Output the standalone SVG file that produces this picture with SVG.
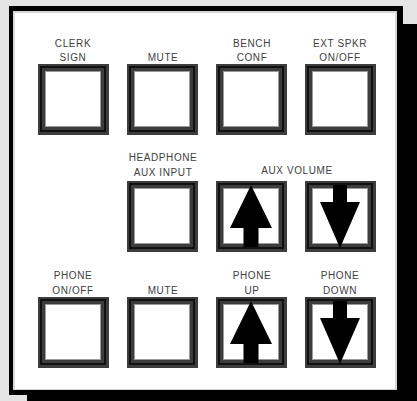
<svg xmlns="http://www.w3.org/2000/svg" width="417" height="401" viewBox="0 0 417 401">
<defs>
<style>
.lbl{font-family:"Liberation Sans","DejaVu Sans",sans-serif;font-size:10px;fill:#404040;text-anchor:middle;letter-spacing:0.6px}
.bo{fill:#3d3d3d}
.bl{fill:none;stroke:#111;stroke-width:2}
.bi{fill:#fff;stroke:#9a9a9a;stroke-width:1}
.ar{fill:#000}
</style>
<g id="btn">
<rect class="bo" x="0" y="0" width="71" height="71"/>
<rect class="bl" x="3" y="3" width="64" height="64"/>
<rect class="bi" x="7.5" y="7.5" width="55" height="55"/>
</g>
<path id="up" class="ar" d="M35,4 L56,47 L42.5,47 L42.5,66 L27.5,66 L27.5,47 L14,47 Z"/>
<path id="down" class="ar" d="M28,4 L42,4 L42,21 L55,21 L35,67 L15,21 L28,21 Z"/>
</defs>
<rect x="0" y="0" width="417" height="401" fill="#e4e4e4"/>
<rect x="27" y="24" width="390" height="377" fill="#000"/>
<rect x="9" y="6" width="394" height="389" fill="#000"/>
<rect x="13" y="11" width="384" height="379" fill="#d6d6d6"/>
<rect x="15" y="13" width="380" height="376" fill="#fff"/>

<g id="clerk-sign"><use href="#btn" x="38" y="64"/><text class="lbl" x="73" y="47">CLERK</text><text class="lbl" x="73" y="61">SIGN</text></g>
<g id="mute-1"><use href="#btn" x="127" y="64"/><text class="lbl" x="163" y="61">MUTE</text></g>
<g id="bench-conf"><use href="#btn" x="216" y="64"/><text class="lbl" x="252" y="47">BENCH</text><text class="lbl" x="252" y="61">CONF</text></g>
<g id="ext-spkr"><use href="#btn" x="305" y="64"/><text class="lbl" x="340" y="47">EXT SPKR</text><text class="lbl" x="340" y="61">ON/OFF</text></g>

<g id="headphone-aux"><use href="#btn" x="127" y="181"/><text class="lbl" x="163" y="161">HEADPHONE</text><text class="lbl" x="163" y="176">AUX INPUT</text></g>
<g id="aux-volume-label"><text class="lbl" x="297" y="174">AUX VOLUME</text></g>
<g id="aux-up"><use href="#btn" x="216" y="181"/><use href="#up" x="216" y="181"/></g>
<g id="aux-down"><use href="#btn" x="305" y="181"/><use href="#down" x="305" y="181"/></g>

<g id="phone-onoff"><use href="#btn" x="38" y="297"/><text class="lbl" x="73" y="279">PHONE</text><text class="lbl" x="73" y="294">ON/OFF</text></g>
<g id="mute-2"><use href="#btn" x="127" y="297"/><text class="lbl" x="163" y="294">MUTE</text></g>
<g id="phone-up"><use href="#btn" x="216" y="297"/><use href="#up" x="216" y="297"/><text class="lbl" x="252" y="279">PHONE</text><text class="lbl" x="252" y="294">UP</text></g>
<g id="phone-down"><use href="#btn" x="305" y="297"/><use href="#down" x="305" y="297"/><text class="lbl" x="340" y="279">PHONE</text><text class="lbl" x="340" y="294">DOWN</text></g>
<g id="connectors"/>
</svg>
